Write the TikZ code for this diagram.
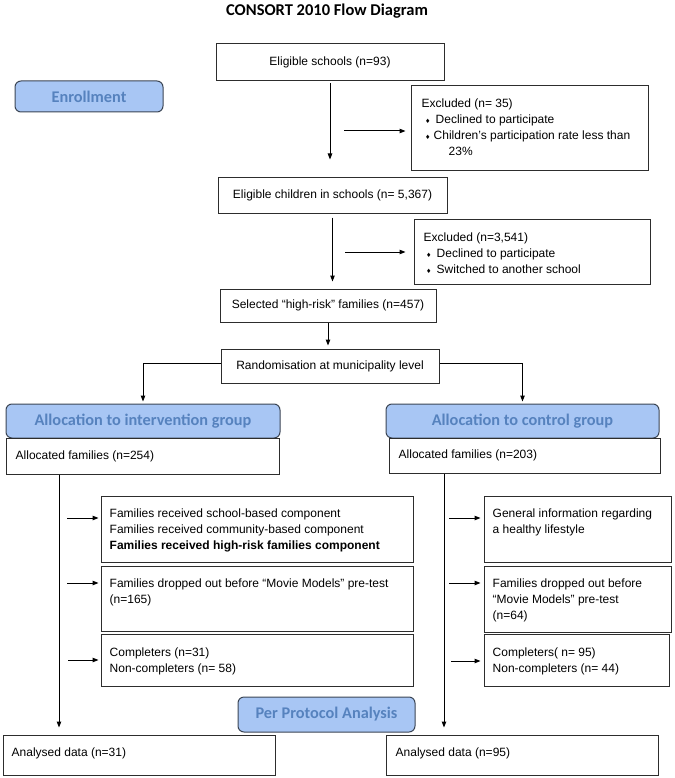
\documentclass[tikz,border=0pt]{standalone}
\usepackage{fontspec}
\setmainfont{Liberation Sans}
\newfontfamily\hfont{Carlito}
\newfontfamily\dvfont{DejaVu Sans}
\usetikzlibrary{arrows.meta,fit}
\definecolor{headfill}{RGB}{168,198,244}
\definecolor{headtext}{RGB}{86,130,190}
\definecolor{headline}{RGB}{60,70,85}
\definecolor{boxline}{RGB}{45,45,45}
\newcommand\bul{\makebox[10pt][c]{\dvfont\fontsize{6}{6}\selectfont ♦}}
\begin{document}
\begin{tikzpicture}[x=1pt,y=-1pt,
  box/.style={draw=boxline, line width=1pt, inner sep=0pt, fill=white},
  ctext/.style={font=\fontsize{12}{16}\selectfont},
  ltext/.style={font=\fontsize{12}{16}\selectfont, align=left, anchor=north west, inner sep=0pt},
  head/.style={draw=headline, line width=1pt, fill=headfill, rounded corners=6pt, text=headtext, font=\hfont\bfseries\fontsize{16.3}{18}\selectfont, inner sep=0pt},
  arr/.style={draw=black, line width=1pt, -{Triangle[length=6pt,width=4.5pt]}},
  ln/.style={draw=black, line width=1pt}]
\useasboundingbox (0,0) rectangle (674,778);

\node[font=\hfont\bfseries\fontsize{16.5}{18}\selectfont, inner sep=0pt] (title) at (327,11) {CONSORT 2010 Flow Diagram};

% enrollment stage
\node[head, minimum width=148, minimum height=31] (enroll) at (89,96.5) {Enrollment};
\node[box, ctext, minimum width=228, minimum height=37] (schools) at (330,62.5) {Eligible schools (n=93)};
\node[box, fit={(411,86) (648,171)}] (excl1) {};
\node[ltext] (excl1t) at ([shift={(11,13)}]excl1.north west) {Excluded (n= 35)\\
\hspace{1pt}\bul\hspace{3pt}Declined to participate\\
\hspace{1pt}\bul\hspace{1pt}Children’s participation rate less than\\
\hspace{27pt}23\%};
\node[box, ctext, minimum width=229, minimum height=36] (children) at (332.5,195) {Eligible children in schools (n= 5,367)};
\node[box, fit={(414,219) (650,284)}] (excl2) {};
\node[ltext] (excl2t) at ([shift={(10,14)}]excl2.north west) {Excluded (n=3,541)\\
\hspace{0pt}\bul\hspace{3pt}Declined to participate\\
\hspace{0pt}\bul\hspace{3pt}Switched to another school};
\node[box, ctext, minimum width=216, minimum height=33] (selected) at (328,305.5) {Selected “high-risk” families (n=457)};
\node[box, ctext, minimum width=218, minimum height=34] (random) at (330,366) {Randomisation at municipality level};

\draw[arr, shorten <=2pt, shorten >=17pt] (schools.south) -- (schools.south |- children.north);
\draw[arr, shorten <=4pt, shorten >=7pt] (children.south) -- (children.south |- selected.north);
\draw[arr, shorten >=3pt] (selected.south) -- (selected.south |- random.north);
\coordinate (e1s) at (344,131);
\draw[arr, shorten >=5pt] (e1s) -- (e1s -| excl1.west);
\coordinate (e2s) at (345,252);
\draw[arr, shorten >=8pt] (e2s) -- (e2s -| excl2.west);

% allocation
\node[head, minimum width=274, minimum height=34] (headI) at (143,421) {Allocation to intervention group};
\node[head, minimum width=273, minimum height=34] (headC) at (522.5,421) {Allocation to control group};
\draw[arr, shorten >=2pt] ([yshift=3pt]random.west) -| (headI.north);
\draw[arr, shorten >=2pt] ([yshift=3pt]random.east) -| (headC.north);

\node[box, fit={(6,438) (279,474)}] (allocI) {};
\node[ctext, anchor=west, inner sep=0pt] (allocIt) at ([xshift=10pt]allocI.west) {Allocated families (n=254)};
\node[box, fit={(389,438) (660,473)}] (allocC) {};
\node[ctext, anchor=west, inner sep=0pt] (allocCt) at ([xshift=10pt]allocC.west) {Allocated families (n=203)};

% intervention arm
\node[box, fit={(101,496) (413,562)}] (recvI) {};
\node[ltext] (recvIt) at ([shift={(9,13)}]recvI.north west) {Families received school-based component\\
Families received community-based component\\
\textbf{Families received high-risk families component}};
\node[box, fit={(101,566) (413,631)}] (dropI) {};
\node[ltext] (dropIt) at ([shift={(9,13)}]dropI.north west) {Families dropped out before “Movie Models” pre-test\\(n=165)};
\node[box, fit={(101,634) (413,686)}] (compI) {};
\node[ltext] (compIt) at ([shift={(9,14)}]compI.north west) {Completers (n=31)\\Non-completers (n= 58)};
\node[box, fit={(3,735) (275,775)}] (analI) {};
\node[ctext, anchor=west, inner sep=0pt] (analIt) at ([shift={(9,-2)}]analI.west) {Analysed data (n=31)};

% control arm
\node[box, fit={(484,496) (671,562)}] (genC) {};
\node[ltext] (genCt) at ([shift={(9,13)}]genC.north west) {General information regarding\\a healthy lifestyle};
\node[box, fit={(484,566) (671,632)}] (dropC) {};
\node[ltext] (dropCt) at ([shift={(9,13)}]dropC.north west) {Families dropped out before\\“Movie Models” pre-test\\(n=64)};
\node[box, fit={(484,634) (669,686)}] (compC) {};
\node[ltext] (compCt) at ([shift={(9,14)}]compC.north west) {Completers( n= 95)\\Non-completers (n= 44)};
\node[box, fit={(386,735) (658,775)}] (analC) {};
\node[ctext, anchor=west, inner sep=0pt] (analCt) at ([shift={(10,-2)}]analC.west) {Analysed data (n=95)};

\node[head, minimum width=177, minimum height=35] (protocol) at (326.5,714.5) {Per Protocol Analysis};

% vertical flow lines
\coordinate (vI) at (59,0);
\coordinate (vC) at (444,0);
\draw[arr, shorten >=7pt] (allocI.south -| vI) -- (analI.north -| vI);
\draw[arr, shorten >=7pt] (allocC.south -| vC) -- (analC.north -| vC);

% side arrows
\coordinate (s1) at (67,518);
\coordinate (s2) at (67,583);
\coordinate (s3) at (68,660);
\draw[arr, shorten >=2pt] (s1) -- (s1 -| recvI.west);
\draw[arr, shorten >=2pt] (s2) -- (s2 -| dropI.west);
\draw[arr, shorten >=2pt] (s3) -- (s3 -| compI.west);
\coordinate (c1) at (449,518);
\coordinate (c2) at (449,583);
\coordinate (c3) at (451,661);
\draw[arr, shorten >=3pt] (c1) -- (c1 -| genC.west);
\draw[arr, shorten >=3pt] (c2) -- (c2 -| dropC.west);
\draw[arr, shorten >=3pt] (c3) -- (c3 -| compC.west);
\end{tikzpicture}
\end{document}
